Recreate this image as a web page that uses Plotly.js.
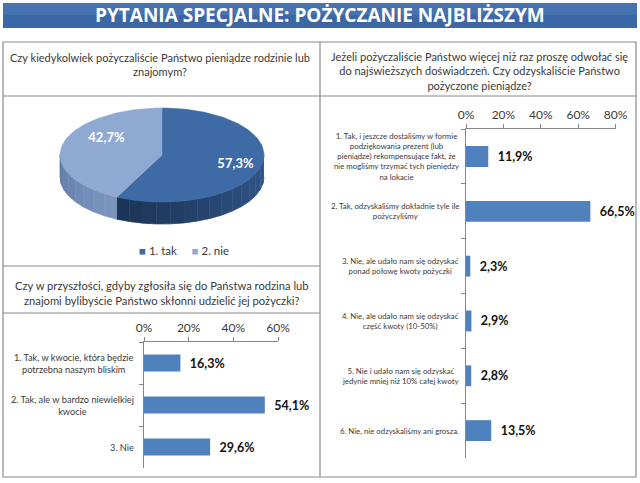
<!DOCTYPE html>
<html>
<head>
<meta charset="utf-8">
<script src="https://cdn.plot.ly/plotly-3.0.1.min.js"></script>
<style>
  html, body { margin: 0; padding: 0; background: #fff; }
  #chart { width: 640px; height: 483px; }
</style>
</head>
<body>
<div id="chart"></div>
<script>
// Pie: did you ever lend money?
const pieLabels = ['1. tak', '2. nie'];
const pieValues = [57.3, 42.7];
const pieTopColors = ['#3E6AA6', '#8FA9D2'];
const pieSideColors = [['#33598F', '#1B3355'], ['#7D96C0', '#607AA6']];

// Bars, bottom left: would you lend in the future?
const futureCategories = [
  '1. Tak, w kwocie, która będzie<br>potrzebna naszym bliskim',
  '2. Tak, ale w bardzo niewielkiej<br>kwocie',
  '3. Nie'
];
const futureValues = [16.3, 54.1, 29.6];
const futureTicks = [0, 20, 40, 60];

// Bars, right: did you get the money back?
const returnCategories = [
  '1. Tak, i jeszcze dostaliśmy w formie<br>podziękowania prezent (lub<br>pieniądze) rekompensujące fakt, że<br>nie mogliśmy trzymać tych pieniędzy<br>na lokacie',
  '2. Tak, odzyskaliśmy dokładnie tyle ile<br>pożyczyliśmy',
  '3. Nie, ale udało nam się odzyskać<br>ponad połowę kwoty pożyczki',
  '4. Nie, ale udało nam się odzyskać<br>część kwoty (10-50%)',
  '5. Nie i udało nam się odzyskać<br>jedynie mniej niż 10% całej kwoty',
  '6. Nie, nie odzyskaliśmy ani grosza.'
];
const returnValues = [11.9, 66.5, 2.3, 2.9, 2.8, 13.5];
const returnTicks = [0, 20, 40, 60, 80];

const W = 640, H = 483;
const px = x => x / W;
const py = y => 1 - y / H;
const pct = v => v.toFixed(1).replace('.', ',') + '%';

const FONT = 'Lato, "Open Sans", sans-serif';
const TXT = '#3a3a3a';
const BAR = '#4F81BD';
const GRID = '#868686';

// ---- 3D-looking pie drawn with filled scatter paths (pixel space axes x3/y3)
const P = {cx: 162, cy: 155, rx: 102, ry: 47, depth: 22};
// label nudges per slice (Excel places them with perspective)
const pieLabelShift = [[4, 0], [14, -14]];
function pt(theta, dy) {
  const r = theta * Math.PI / 180;
  return [P.cx + P.rx * Math.sin(r), P.cy - P.ry * Math.cos(r) + dy];
}
function arc(a, b, dy) {
  const out = [];
  const n = Math.max(2, Math.ceil((b - a) / 2));
  for (let i = 0; i <= n; i++) out.push(pt(a + (b - a) * i / n, dy));
  return out;
}
function mix(c1, c2, t) {
  const h = c => [1, 3, 5].map(i => parseInt(c.slice(i, i + 2), 16));
  const a = h(c1), b = h(c2);
  return 'rgb(' + a.map((v, i) => Math.round(v + (b[i] - v) * t)).join(',') + ')';
}

const total = pieValues.reduce((s, v) => s + v, 0);
const sideTraces = [], topTraces = [], labelX = [], labelY = [], labelT = [];
let start = 0;
pieValues.forEach((v, i) => {
  const end = start + v / total * 360;
  // visible side (front half: 90..270 deg)
  const s0 = Math.max(start, 90), s1 = Math.min(end, 270);
  if (s1 > s0) {
    const steps = Math.ceil((s1 - s0) / 8);
    for (let k = 0; k < steps; k++) {
      const a = s0 + (s1 - s0) * k / steps;
      const b = s0 + (s1 - s0) * (k + 1) / steps;
      const top = arc(a, b, 0), bot = arc(a, b, P.depth).reverse();
      const poly = top.concat(bot);
      const col = mix(pieSideColors[i][0], pieSideColors[i][1], (k + 0.5) / steps);
      sideTraces.push({
        x: poly.map(p => p[0]), y: poly.map(p => p[1]),
        type: 'scatter', mode: 'lines', fill: 'toself', fillcolor: col,
        line: {color: col, width: 0.8}, xaxis: 'x3', yaxis: 'y3',
        hoverinfo: 'skip', showlegend: false
      });
    }
  }
  const poly = [[P.cx, P.cy]].concat(arc(start, end, 0)).concat([[P.cx, P.cy]]);
  topTraces.push({
    x: poly.map(p => p[0]), y: poly.map(p => p[1]),
    type: 'scatter', mode: 'lines', fill: 'toself', fillcolor: pieTopColors[i],
    line: {color: pieTopColors[i], width: 0.5}, xaxis: 'x3', yaxis: 'y3',
    name: pieLabels[i], hoverinfo: 'skip', showlegend: false
  });
  const mid = (start + end) / 2;
  labelX.push(P.cx + 0.7 * P.rx * Math.sin(mid * Math.PI / 180) + pieLabelShift[i][0]);
  labelY.push(P.cy - 0.55 * P.ry * Math.cos(mid * Math.PI / 180) + 4 + pieLabelShift[i][1]);
  labelT.push('<b>' + pct(v) + '</b>');
  start = end;
});

const pieText = {
  x: labelX, y: labelY, text: labelT, type: 'scatter', mode: 'text',
  textfont: {family: FONT, size: 13, color: '#ffffff'},
  xaxis: 'x3', yaxis: 'y3', hoverinfo: 'skip', showlegend: false
};

// ---- bar traces
const futureBars = {
  type: 'bar', orientation: 'h',
  x: futureValues, y: futureCategories,
  width: 0.4, marker: {color: BAR},
  text: futureValues.map(v => '\u00a0\u00a0<b>' + pct(v) + '</b>'),
  textposition: 'outside', cliponaxis: false, constraintext: 'none',
  textfont: {family: FONT, size: 12.5, color: '#111'},
  xaxis: 'x', yaxis: 'y', hoverinfo: 'skip', showlegend: false
};
const returnBars = {
  type: 'bar', orientation: 'h',
  x: returnValues, y: returnCategories,
  width: 0.38, marker: {color: BAR},
  text: returnValues.map(v => '\u00a0\u00a0<b>' + pct(v) + '</b>'),
  textposition: 'outside', cliponaxis: false, constraintext: 'none',
  textfont: {family: FONT, size: 12.5, color: '#111'},
  xaxis: 'x2', yaxis: 'y2', hoverinfo: 'skip', showlegend: false
};

const valueAxis = (ticks, domain, anchor) => ({
  domain: domain, anchor: anchor, side: 'top',
  range: [0, ticks[ticks.length - 1]],
  tickvals: ticks, ticktext: ticks.map(t => t + '%'),
  ticks: 'outside', ticklen: 4, tickcolor: GRID,
  showline: true, linecolor: GRID, linewidth: 1,
  showgrid: false, zeroline: false, fixedrange: true,
  tickfont: {family: FONT, size: 12, color: TXT}
});
const catAxis = (domain, anchor) => ({
  domain: domain, anchor: anchor, type: 'category',
  autorange: 'reversed', tickson: 'boundaries',
  ticks: 'outside', ticklen: 4, tickcolor: GRID,
  showline: true, linecolor: GRID, linewidth: 1,
  showticklabels: false, showgrid: false, zeroline: false, fixedrange: true
});

// ---- table frame and banner
const line = (x0, y0, x1, y1) => ({
  type: 'line', xref: 'paper', yref: 'paper',
  x0: px(x0), y0: py(y0), x1: px(x1), y1: py(y1),
  line: {color: '#8a8a8a', width: 1.2}
});
const shapes = [
  {type: 'rect', xref: 'paper', yref: 'paper', x0: px(3), x1: px(637), y0: py(28), y1: py(3),
   fillcolor: '#3B67A6', line: {width: 0}, layer: 'below'},
  {type: 'rect', xref: 'paper', yref: 'paper', x0: px(3), x1: px(637), y0: py(15), y1: py(3),
   fillcolor: '#4672B0', line: {width: 0}, layer: 'below'},
  {type: 'rect', xref: 'paper', yref: 'paper', x0: px(3), x1: px(636), y0: py(477), y1: py(42),
   fillcolor: 'rgba(0,0,0,0)', line: {color: '#8a8a8a', width: 1.2}},
  line(320, 42, 320, 477),
  line(3, 96, 636, 96),
  line(3, 266, 320, 266),
  line(3, 313, 320, 313)
];

const annotations = [
  {text: '<b>PYTANIA SPECJALNE: POŻYCZANIE NAJBLIŻSZYM</b>', x: 0.5, y: py(15.5),
   font: {family: '"Open Sans", sans-serif', size: 19, color: '#ffffff'}},
  {text: 'Czy kiedykolwiek pożyczaliście Państwo pieniądze rodzinie lub<br>znajomym?',
   x: px(160), y: py(64.5), font: {family: FONT, size: 11, color: TXT}},
  {text: 'Jeżeli pożyczaliście Państwo więcej niż raz proszę odwołać się<br>do najświeższych doświadczeń. Czy odzyskaliście Państwo<br>pożyczone pieniądze?',
   x: px(479), y: py(70.5), font: {family: FONT, size: 11, color: TXT}},
  {text: 'Czy w przyszłości, gdyby zgłosiła się do Państwa rodzina lub<br>znajomi bylibyście Państwo skłonni udzielić jej pożyczki?',
   x: px(162), y: py(292.5), font: {family: FONT, size: 11.2, color: TXT}},
  {text: '<span style="color:' + pieTopColors[0] + '">■</span> ' + pieLabels[0] +
         '     <span style="color:' + pieTopColors[1] + '">■</span> ' + pieLabels[1],
   x: px(184), y: py(250), font: {family: FONT, size: 11.5, color: TXT}}
].map(a => Object.assign({xref: 'paper', yref: 'paper', showarrow: false,
                          xanchor: 'center', yanchor: 'middle', align: 'center'}, a));

futureCategories.forEach(c => annotations.push({
  text: c, xref: 'paper', x: px(136), yref: 'y', y: c, showarrow: false,
  xanchor: 'right', align: 'center', font: {family: FONT, size: 9.2, color: TXT}
}));
returnCategories.forEach(c => annotations.push({
  text: c, xref: 'paper', x: px(461), yref: 'y2', y: c, showarrow: false,
  xanchor: 'right', align: 'center', font: {family: FONT, size: 7.8, color: TXT}
}));

const layout = {
  width: W, height: H,
  margin: {l: 0, r: 0, t: 0, b: 0, pad: 0},
  paper_bgcolor: '#ffffff', plot_bgcolor: 'rgba(0,0,0,0)',
  showlegend: false,
  xaxis: valueAxis(futureTicks, [px(144), px(278)], 'y'),
  yaxis: catAxis([py(468), py(342)], 'x'),
  xaxis2: valueAxis(returnTicks, [px(466), px(615.6)], 'y2'),
  yaxis2: catAxis([py(458), py(129)], 'x2'),
  xaxis3: {domain: [0, 1], anchor: 'y3', range: [0, W], visible: false, fixedrange: true},
  yaxis3: {domain: [0, 1], anchor: 'x3', range: [H, 0], visible: false, fixedrange: true},
  shapes: shapes,
  annotations: annotations
};

Plotly.newPlot('chart', sideTraces.concat(topTraces, [pieText, futureBars, returnBars]),
               layout, {displayModeBar: false, staticPlot: true});
</script>
</body>
</html>
